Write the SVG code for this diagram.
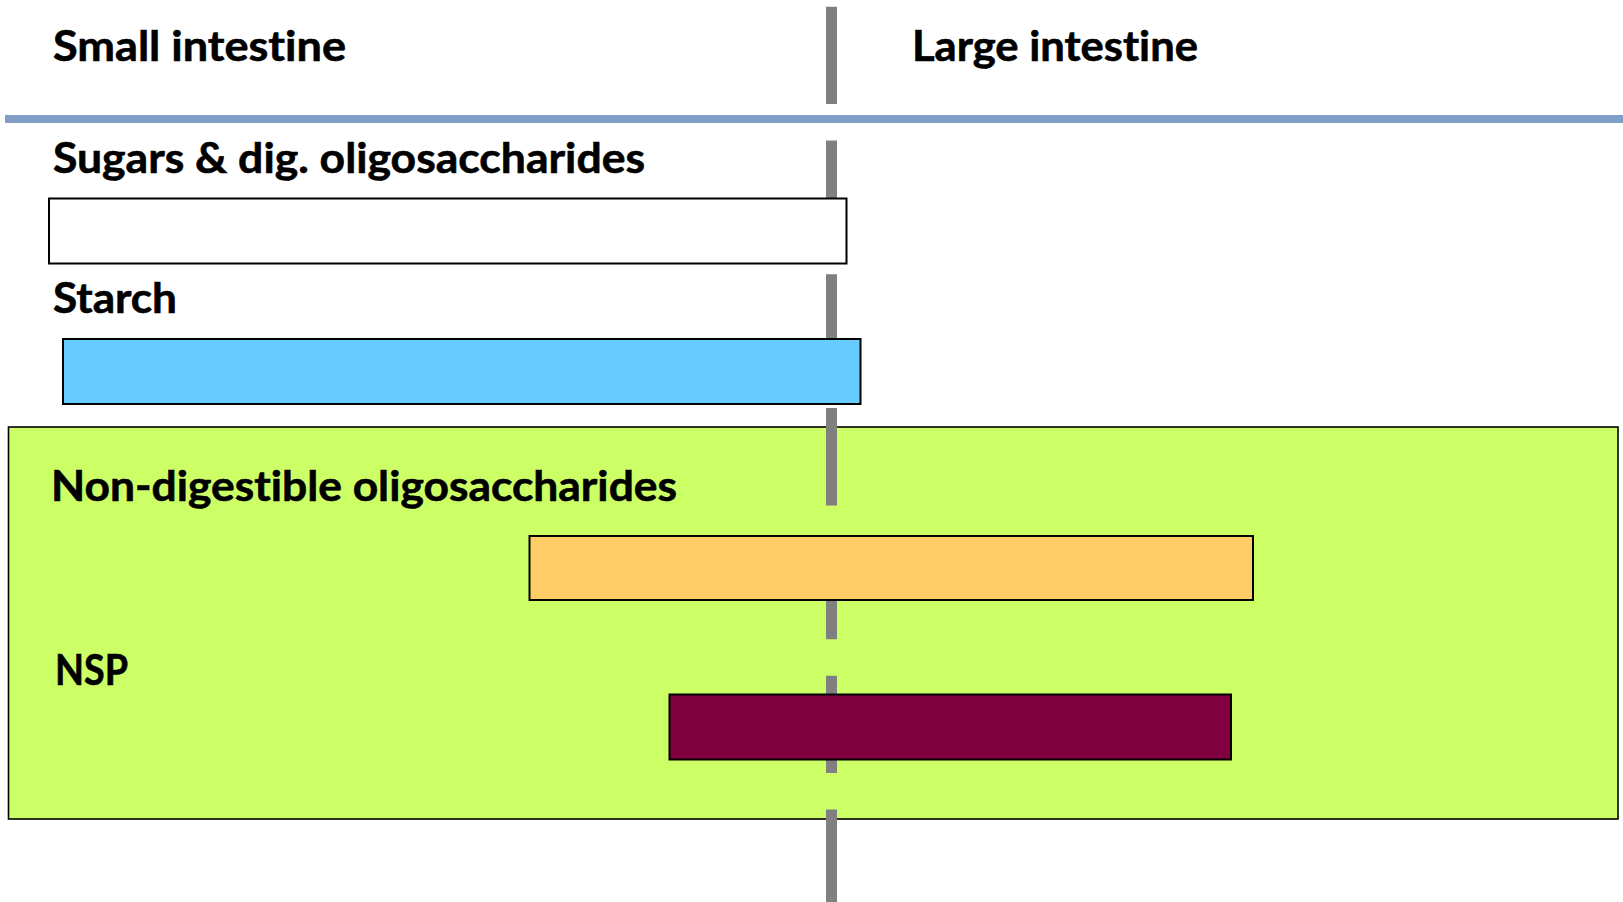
<svg xmlns="http://www.w3.org/2000/svg" width="1623" height="902" viewBox="0 0 1623 902">
<style>
.lbl{font-family:Lato,"Open Sans","Liberation Sans",sans-serif;font-weight:700;font-size:42px;fill:#000;font-variant-ligatures:none;stroke:#000;stroke-width:0.6}
.bar{stroke:#000;stroke-width:2}
</style>
<rect x="0" y="0" width="1623" height="902" fill="#fff"/>
<g id="header">
<text class="lbl" x="53" y="61" textLength="293" lengthAdjust="spacingAndGlyphs">Small intestine</text>
<text class="lbl" x="912" y="61" textLength="286" lengthAdjust="spacingAndGlyphs">Large intestine</text>
<rect x="5" y="115" width="1618" height="8" fill="#7F9FC8"/>
</g>
<g id="non-digestible-region">
<rect x="8.5" y="427" width="1609.5" height="392" fill="#CCFF66" stroke="#000" stroke-width="1.6"/>
</g>
<g id="divider">
<line x1="831.5" y1="6.7" x2="831.5" y2="902" stroke="#808080" stroke-width="11" stroke-dasharray="97.3 36.5"/>
</g>
<g id="sugars">
<text class="lbl" x="53" y="173" textLength="592" lengthAdjust="spacingAndGlyphs">Sugars &amp; dig. oligosaccharides</text>
<rect class="bar" x="49" y="198.5" width="797.5" height="65" fill="#FFFFFF"/>
</g>
<g id="starch">
<text class="lbl" x="53" y="313" textLength="124" lengthAdjust="spacingAndGlyphs">Starch</text>
<rect class="bar" x="63" y="339" width="797.5" height="65" fill="#66CCFF"/>
</g>
<g id="ndo">
<text class="lbl" x="51" y="501" textLength="626" lengthAdjust="spacingAndGlyphs">Non-digestible oligosaccharides</text>
<rect class="bar" x="529.5" y="536" width="723.5" height="64" fill="#FFCC66"/>
</g>
<g id="nsp">
<text class="lbl" x="55" y="685" textLength="73" lengthAdjust="spacingAndGlyphs">NSP</text>
<rect class="bar" x="669.5" y="694.5" width="561.5" height="65" fill="#800040"/>
</g>
</svg>
